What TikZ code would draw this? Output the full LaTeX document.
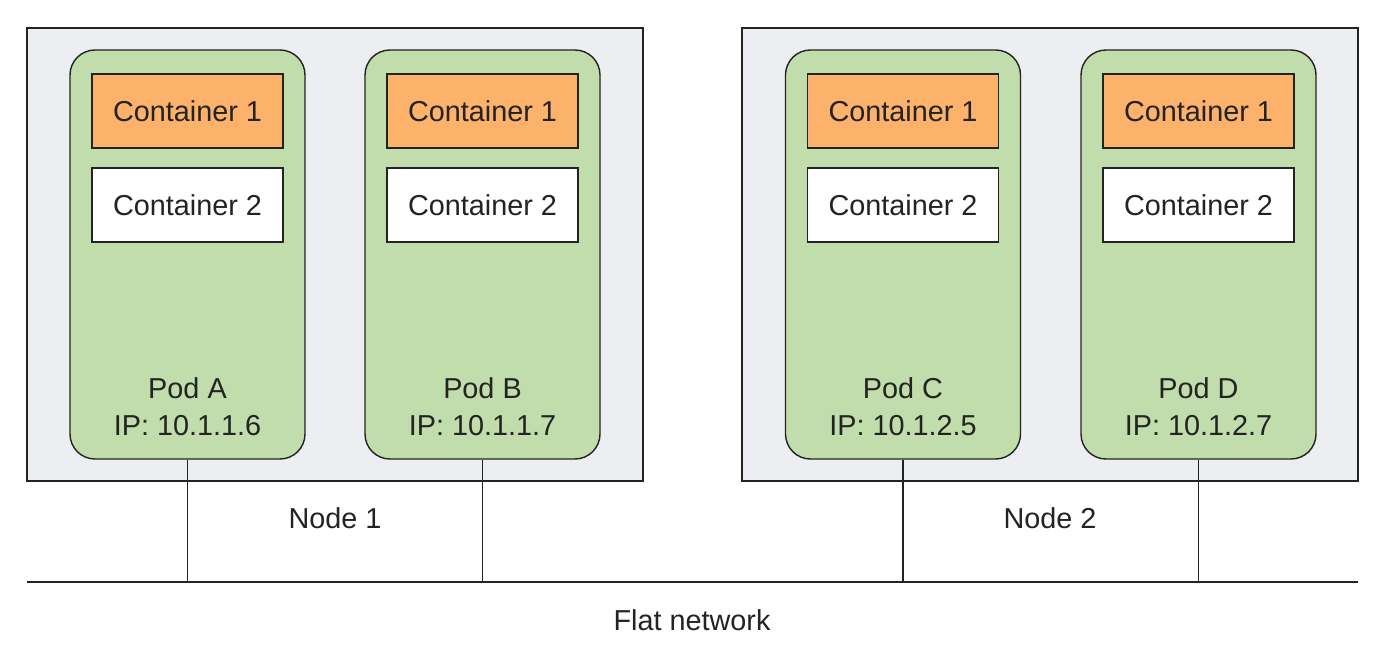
\documentclass[tikz,border=0pt]{standalone}
\usepackage{fontspec}
\setmainfont{Liberation Sans}
\usepackage{xcolor}
\definecolor{k_grey}{RGB}{237,238,241}
\definecolor{k_green}{RGB}{193,221,171}
\definecolor{k_orange}{RGB}{252,178,106}
\definecolor{k_line}{RGB}{35,35,35}

\begin{document}
\begin{tikzpicture}[
    txt/.style={font=\fontsize{16.4}{21.6}\selectfont, text=k_line},
    hostbox/.style={draw=k_line, line width=0.8pt, fill=k_grey, minimum width=12.32cm, minimum height=9.06cm},
    podbox/.style={draw=k_line, line width=0.8pt, fill=k_green, rounded corners=0.5cm, minimum width=4.7cm, minimum height=8.18cm},
    ctrbox/.style={txt, draw=k_line, line width=0.8pt, minimum width=3.82cm, minimum height=1.48cm, inner sep=0pt},
    wire/.style={draw=k_line, line width=0.8pt}
  ]
    % Canvas: 1386 x 662 px at 0.02 cm per px
    \useasboundingbox (0,0) rectangle (27.72,13.24);

    % The two hosts
    \node[hostbox] (node1) at (6.70,8.15) {};
    \node[hostbox] (node2) at (21.00,8.15) {};

    % Pods with their two containers and address
    \foreach \name/\x/\ip in {A/3.75/10.1.1.6, B/9.65/10.1.1.7, C/18.06/10.1.2.5, D/23.97/10.1.2.7} {
      \node[podbox] (pod\name) at (\x,8.15) {};
      \node[ctrbox, fill=k_orange] (pod\name-c1) at (\x,11.02) {Container 1};
      \node[ctrbox, fill=white] (pod\name-c2) at (\x,9.14) {Container 2};
      \node[txt, align=center, anchor=center] (pod\name-lbl) at ([yshift=1.06cm]pod\name.south) {Pod \name\\IP: \ip};
    }

    % Flat network and the pod links
    \coordinate (netL) at (0.54,1.60);
    \coordinate (netR) at (27.16,1.60);
    \draw[wire] (netL) -- (netR);
    \foreach \name in {A,B,C,D} {
      \draw[wire] (pod\name.south) -- (pod\name.south |- netL);
    }

    % Labels
    \node[txt] (lbl1) at (6.70,2.88) {Node 1};
    \node[txt] (lbl2) at (21.00,2.88) {Node 2};
    \node[txt] (lblnet) at (13.84,0.84) {Flat network};

  \end{tikzpicture}
\end{document}
